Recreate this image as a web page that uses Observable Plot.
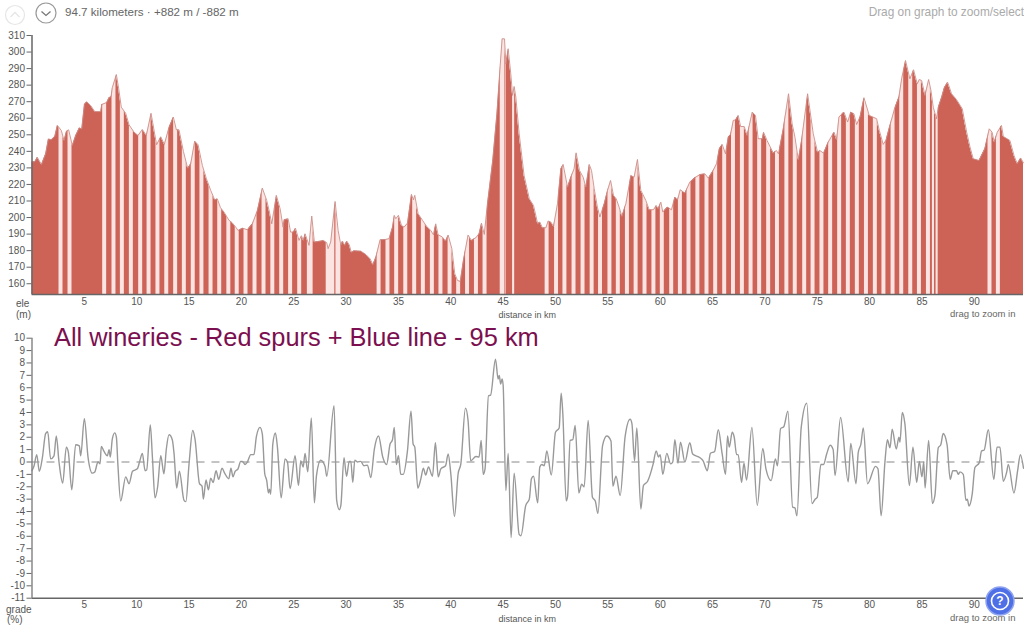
<!DOCTYPE html>
<html>
<head>
<meta charset="utf-8">
<script src="https://cdn.jsdelivr.net/npm/d3@7"></script>
<script src="https://cdn.jsdelivr.net/npm/@observablehq/plot@0.6"></script>
<style>
html,body{margin:0;padding:0;background:#fff;overflow:hidden}
body{width:1024px;height:630px;position:relative;font-family:"Liberation Sans",Arial,sans-serif}
.abs{position:absolute;white-space:nowrap}
#p1,#p2{position:absolute;left:0}
#p1{top:0}
#p2{top:320px}
</style>
</head>
<body>
<svg class="abs" style="left:0;top:0" width="62" height="30">
  <circle cx="15" cy="15" r="9.5" fill="none" stroke="#e6e6e6" stroke-width="1.2"/>
  <path d="M10.5 17 L15 12.5 L19.5 17" fill="none" stroke="#e6e6e6" stroke-width="1.4"/>
  <circle cx="46" cy="13" r="10" fill="none" stroke="#999" stroke-width="1.2"/>
  <path d="M41.5 11.5 L46 15.5 L50.5 11.5" fill="none" stroke="#777" stroke-width="1.3"/>
</svg>
<div class="abs" style="left:65px;top:5px;font-size:11.6px;color:#666">94.7 kilometers · +882 m / -882 m</div>
<div class="abs" style="right:0;top:5px;font-size:11.85px;color:#aaa">Drag on graph to zoom/select</div>
<div id="p1"></div>
<div id="p2"></div>
<div class="abs" style="left:54px;top:323px;font-size:25.4px;color:#7b0f4f">All wineries - Red spurs + Blue line - 95 km</div>
<svg class="abs" style="left:984px;top:585px" width="32" height="32">
  <circle cx="16" cy="16" r="14" fill="#4f6fe6" stroke="#8ea3ef" stroke-width="1.5"/>
  <circle cx="16" cy="16" r="8.5" fill="none" stroke="#fff" stroke-width="1.6"/>
  <text x="16" y="20.2" text-anchor="middle" font-size="12" font-weight="bold" fill="#fff" font-family="Liberation Sans">?</text>
</svg>
<script>
const totalKm = 94.7;
const kmTicks = [5,10,15,20,25,30,35,40,45,50,55,60,65,70,75,80,85,90];
const eleTicks = [160,170,180,190,200,210,220,230,240,250,260,270,280,290,300,310];
const gradeTicks = [10,9,8,7,6,5,4,3,2,1,0,-1,-2,-3,-4,-5,-6,-7,-8,-9,-10,-11];
const eleBase = 153.5, eleTop = 310;

const elevation = [[0,233.5],[0.3,234],[0.5,236.5],[0.9,232],[1.3,238.5],[1.56,247.5],[1.85,247],[2.17,249],[2.42,255.7],[2.8,252.6],[3.06,246.6],[3.28,252],[3.5,253],[3.85,243.6],[4.17,249.6],[4.52,254.2],[4.75,253.6],[5,268.3],[5.22,270],[5.6,267.7],[6,264],[6.56,264],[6.66,268.3],[7.13,269.5],[7.36,272.5],[7.55,273],[7.67,278.4],[8.06,286.4],[8.28,277.8],[8.53,266.7],[8.95,263],[9.27,256],[9.75,251.6],[10.13,249.6],[10.54,253.2],[10.92,249.6],[11.37,263],[11.9,244],[12.3,248.8],[12.64,244.2],[13.09,254.6],[13.5,260.7],[13.79,253],[14.04,253],[14.46,240],[14.87,229.8],[15.16,232.5],[15.54,246.2],[15.86,244],[16.27,231.5],[16.66,223.4],[17.07,216.4],[17.45,210.7],[17.7,211.3],[18,206],[18.34,203.3],[18.82,198.3],[19.1,197],[19.46,194.2],[19.68,192.2],[20.1,193.6],[20.57,192.6],[21.05,196.2],[21.53,204.3],[22,217.8],[22.42,210.3],[22.68,203.3],[22.9,196.2],[23.34,213.4],[23.7,205.3],[23.98,194.2],[24.08,198.7],[24.46,199.3],[24.7,191.2],[24.97,191.2],[25.16,193.6],[25.5,186.2],[25.73,189],[25.92,186.2],[26.08,190.2],[26.46,183.2],[26.72,200.9],[26.97,185.2],[27.58,185.8],[27.83,186.2],[28.15,184.8],[28.28,181.2],[28.53,185.2],[28.95,209.7],[29.24,192.2],[29.5,183.2],[29.65,185.8],[29.87,183.2],[30.06,185.8],[30.3,183.5],[30.5,179],[30.76,180],[31.4,179.7],[31.9,177.6],[32.3,175],[32.55,171.5],[32.84,176],[33.25,186.6],[33.8,186.8],[34.1,187.2],[34.43,194.2],[34.6,201.3],[34.75,199.3],[35,201.3],[35.29,195.2],[35.54,194.2],[35.86,196.6],[36.24,214],[36.43,210.7],[36.56,213.4],[36.88,202.3],[37.3,198.3],[37.7,194.6],[38.09,192.2],[38.34,189.6],[38.56,196.2],[38.79,189.6],[39.2,188.2],[39.5,185.8],[39.75,189.4],[40.1,181.2],[40.38,166],[40.64,162],[40.9,161.4],[41.2,174.1],[41.65,189.4],[41.97,186.2],[42.39,187.8],[42.7,190.2],[42.93,196.6],[43.2,189.8],[43.5,208.3],[44,234.5],[44.4,262.7],[44.72,291.9],[44.9,308],[45.13,308],[45.26,292.9],[45.48,302],[45.73,286.8],[45.9,273.8],[46.05,279.2],[46.21,272.8],[46.53,250.6],[47,225.4],[47.5,211.3],[47.9,207.3],[48.3,196.2],[48.5,197.3],[48.75,193.8],[49.08,193.8],[49.3,197.9],[49.55,197.3],[49.81,194.6],[50.19,208.3],[50.51,229.5],[50.73,232.1],[51.15,218.4],[51.46,224.4],[51.78,229.5],[51.97,239.1],[52.29,228.5],[52.64,224.4],[52.9,218.4],[53.22,232.1],[53.44,228.5],[53.7,217.4],[54,206.3],[54.24,200.3],[54.65,208.3],[54.97,216.4],[55.26,222.4],[55.54,213.4],[55.8,211.3],[56.08,206.3],[56.34,200.7],[56.72,208.3],[57.2,225.4],[57.51,224.4],[57.83,235.1],[58.15,216.4],[58.63,210.3],[58.95,204.7],[59.36,204.7],[59.62,207.3],[59.8,205.3],[60.06,209.3],[60.25,203.3],[60.7,206.3],[61.08,204.7],[61.4,212.4],[61.66,210.7],[61.91,216.8],[62.36,214.8],[62.83,221.4],[63.3,224],[63.8,226],[64.27,226.4],[64.6,223.8],[65.06,228.5],[65.38,232.5],[65.64,241.5],[65.92,244.2],[66.24,238.5],[66.5,248.6],[66.72,250.2],[66.98,258.7],[67.2,259],[67.45,261.7],[67.68,255],[68.03,255],[68.3,249.6],[68.79,263.7],[69.1,261.7],[69.36,247.6],[69.75,247.6],[69.87,251.6],[70.2,246.6],[70.8,239],[71.1,240.5],[71.3,238.5],[71.75,253.6],[72.26,274.8],[72.6,256.6],[72.87,248.6],[73.19,234.9],[73.5,246.6],[74.08,274.8],[74.62,250.6],[75.03,239.5],[75.25,240.5],[75.6,238.9],[76.05,245.6],[76.6,251.6],[76.85,247],[77.07,260.7],[77.55,263.7],[77.9,257.7],[78.2,263.7],[78.5,262.7],[78.76,256.2],[79.08,260.7],[79.46,272.4],[79.97,261.7],[80.67,259.7],[80.93,252.6],[81.3,244.2],[81.56,246.6],[81.85,253.6],[82.41,266.3],[82.8,272.8],[83.06,283.8],[83.43,294.9],[83.85,283.8],[84.2,289.3],[84.55,280.8],[84.75,283.4],[84.97,282.8],[85.29,273.8],[85.64,283.4],[85.86,276.8],[86.08,266.7],[86.4,259.7],[86.56,266.7],[86.88,272.8],[87.13,278.4],[87.45,281.8],[87.83,274.8],[88.3,271.3],[88.85,265.7],[89.27,251.6],[89.59,242.6],[89.9,235.5],[90.45,234.5],[91,241.5],[91.43,253.6],[91.7,251.6],[91.9,245.6],[92.2,251.6],[92.6,255.6],[92.77,249],[93.4,246.6],[93.79,237.5],[94.1,232.5],[94.43,236],[94.7,233]];

const grade = [[0,-0.7],[0.2,-0.3],[0.45,0.6],[0.7,-0.75],[1,0.4],[1.3,2.3],[1.5,2.45],[1.78,0.25],[2.1,0.5],[2.32,2.1],[2.58,0],[2.93,-1.7],[3.28,1.2],[3.47,0.8],[3.8,-2.25],[4.17,1.4],[4.52,1.3],[4.65,0.5],[5,3.5],[5.35,0.4],[5.76,-0.9],[6,-0.8],[6.3,0],[6.5,-0.15],[6.62,1.25],[6.88,0.85],[7.2,0.5],[7.36,1],[7.48,0.4],[7.67,1.85],[7.9,2.35],[8.06,2],[8.2,-0.15],[8.47,-3.15],[8.95,-1.2],[9.27,-1.75],[9.6,-0.75],[10.06,-0.55],[10.3,0.1],[10.54,0.7],[10.8,-0.7],[10.95,-0.65],[11.3,3],[11.5,0.4],[11.75,-2.9],[12,-2],[12.3,0.5],[12.6,-0.95],[12.83,1.05],[13.09,2.2],[13.4,1.8],[13.57,0.65],[13.82,-2.1],[14.08,-0.75],[14.52,-3.1],[14.7,-3.2],[15,-0.15],[15.35,2.55],[15.57,1.85],[16,-1.75],[16.24,-1.95],[16.37,-3],[16.62,-1.45],[16.85,-2.25],[17.07,-1.3],[17.3,-1.65],[17.58,-0.7],[17.83,-1.4],[18.15,-0.5],[18.4,-0.9],[18.8,-1.35],[19,-0.5],[19.2,-1.2],[19.4,-0.75],[19.68,-0.55],[19.93,0.05],[20.1,0.05],[20.35,-0.2],[20.57,0],[20.9,0.6],[21.2,0.6],[21.43,2.05],[21.78,2.8],[22,2.25],[22.23,-0.95],[22.42,-1.5],[22.58,-2.5],[22.68,-2.2],[22.8,-2.6],[23,1.45],[23.25,2.35],[23.44,1.2],[23.8,-2.9],[24.17,0.25],[24.4,0],[24.65,-2.15],[25.13,0.5],[25.45,-1.9],[25.67,0.1],[25.9,-0.4],[26.08,0.7],[26.34,-0.8],[26.68,3.55],[26.97,-3.3],[27.17,-1.1],[27.58,0.15],[27.83,-0.05],[28,-0.4],[28.15,-1.15],[28.85,4.55],[29.1,-3.1],[29.36,-3.85],[29.5,-3.5],[29.8,0.35],[30.04,-1.15],[30.3,0.05],[30.45,0.05],[30.64,-1.65],[30.83,0.15],[31.08,0],[31.4,0.05],[31.7,-0.3],[32.04,-0.25],[32.36,-1.25],[32.7,1.05],[33.1,2.1],[33.5,0.4],[33.87,-0.2],[34.2,1.45],[34.43,1.8],[34.6,2.8],[34.8,-0.2],[35,0.5],[35.22,-1],[35.45,-1],[35.86,0.9],[36.2,4.1],[36.4,1.45],[36.56,1.2],[36.85,-2.1],[37.13,-1.4],[37.38,-0.5],[37.6,-1.05],[37.87,-0.4],[38.25,-1.15],[38.53,1.55],[38.8,-1.2],[39.05,-0.55],[39.5,-0.3],[39.75,0.65],[40,-0.95],[40.35,-4.4],[40.7,-0.95],[40.96,-0.15],[41.4,4.35],[41.65,3.35],[41.9,0.1],[42.4,0.45],[42.7,0.4],[42.9,1.75],[43.1,-1],[43.27,-0.55],[43.6,5.35],[43.8,5.4],[44.27,8.3],[44.52,6.7],[44.63,7],[44.76,6.3],[44.9,6.7],[45,6.2],[45.26,-2.3],[45.48,0.7],[45.76,-6.1],[46.05,-0.9],[46.53,-5.85],[46.7,-5.95],[47.16,-3.5],[47.5,-3],[47.7,-1.35],[47.9,-1.15],[48.3,-3.3],[48.5,-0.4],[48.7,-0.2],[48.93,-0.3],[49.17,0.9],[49.6,-1.05],[50,2.4],[50.35,2.75],[50.54,5.55],[50.7,3.9],[51.02,-3.15],[51.15,-2.8],[51.4,1.75],[51.65,1.8],[51.88,2.95],[52.23,-2.5],[52.5,-1.8],[52.74,-2],[53.12,3.35],[53.53,-2.85],[53.8,-3.15],[54.05,-4.15],[54.5,1.35],[54.9,2.1],[55.3,1.7],[55.48,-1.95],[55.78,-1.15],[56.18,-2.7],[56.65,2.05],[57.13,3.45],[57.3,3.1],[57.55,0.1],[57.77,2.75],[58.15,-3.8],[58.4,-1.9],[58.8,-1.55],[59.33,-0.15],[59.62,0.9],[59.84,0.4],[60,0.6],[60.25,-1],[60.63,0.7],[61,-0.15],[61.2,0],[61.4,1.8],[61.7,-0.1],[61.94,1.6],[62.36,0],[62.83,1.55],[63.1,0.65],[63.8,0.35],[64.1,0.1],[64.5,-0.7],[64.8,0.7],[65.2,0.85],[65.55,2.6],[65.92,0.65],[66.24,-1],[66.43,2.1],[66.6,1.2],[66.88,2.4],[67.07,2],[67.3,0.6],[67.45,0.6],[67.77,-1.65],[68,-0.1],[68.25,-1.45],[68.76,2.8],[69.27,-3.5],[69.8,1.1],[70.1,-0.55],[70.6,-1.5],[71,0.25],[71.2,-0.3],[71.5,2.7],[71.8,2.85],[72.2,4.1],[72.65,-3.65],[72.87,-3.7],[73.06,-4.35],[73.47,2.8],[74,4.75],[74.5,-3.35],[74.8,-3],[75,-2.85],[75.35,-0.2],[75.6,-0.2],[75.9,0.65],[76.24,1.35],[76.52,1],[76.7,-1.1],[77.23,3.6],[77.96,-1.6],[78.2,1.5],[78.7,-1.75],[78.92,0.8],[79.17,1.45],[79.4,2.75],[79.8,-1.75],[80.57,-0.35],[80.8,-0.55],[81.1,-4.35],[81.47,0.05],[81.7,1.8],[81.95,1.15],[82.16,2.65],[82.55,1.05],[82.8,2],[82.9,1.6],[83.12,4],[83.37,3.1],[83.8,-1.9],[84.14,1.2],[84.5,-1.65],[84.75,0.05],[85,-1.2],[85.17,0],[85.3,-2.1],[85.64,1.75],[86,-3.35],[86.24,-2.7],[86.56,1.15],[86.8,1.4],[87.03,2.3],[87.4,1.4],[87.7,-1.4],[87.95,-0.7],[88.3,-0.7],[88.47,-1],[88.63,-0.8],[88.95,-1],[89.2,-3.1],[89.33,-3],[89.5,-3.55],[89.8,-2.6],[90.06,-0.45],[90.48,-0.05],[90.7,0.9],[90.93,0.95],[91.34,2.6],[91.87,-1.4],[92.17,1.2],[92.45,1.2],[92.77,-1.55],[93.1,-0.8],[93.25,-0.2],[93.79,-2.5],[94.14,-0.7],[94.4,0.6],[94.7,-0.5]];

const stripeCentres = [2.77,3.63,6.94,7.83,8.63,9.49,10.38,11.18,12.03,12.87,13.72,14.55,15.4,16.23,17.1,17.93,18.8,19.6,20.44,21.3,22.16,23,23.85,24.7,25.57,33.15,34,34.83,35.7,36.55,37.38,38.24,39.06,39.93,40.75,41.6,42.45,43.27,49.2,50.1,50.9,51.77,52.63,53.5,54.3,55.2,56,56.87,57.7,58.55,59.4,60.2,61.1,61.93,62.75,63.6,64.47,65.3,66.16,67,67.85,68.68,69.5,70.36,71.2,72.1,72.9,73.8,74.6,75.45,76.28,77.14,77.97,78.83,79.7,80.55,81.37,82.24,83.07,83.93,84.76,85.62,91.5,92.3];
const stripeWidth = 0.38;
const otherStripes = [[26.3,26.85],[28.1,28.92],[29.03,29.5],[44.72,45.15],[45.2,45.28],[45.9,46.1],[86,86.2],[86.35,86.55]];

const stripes = stripeCentres.map(c => [c - stripeWidth/2, c + stripeWidth/2]).concat(otherStripes);

const fontFamily = '"Liberation Sans", Arial, sans-serif';
const axisColor = "#666";
const labelColor = "#555";

const xScale = {domain:[0,totalKm], range:[31.5,1023]};

const upper = Plot.plot({
  width:1024, height:320, marginTop:35, marginBottom:26, marginLeft:31.5, marginRight:1,
  style:{fontFamily, fontSize:"10px", background:"transparent", color:labelColor, overflow:"visible"},
  x:{...xScale, axis:null},
  y:{domain:[eleBase,eleTop], axis:null},
  marks:[
    Plot.areaY(elevation,{x:d=>d[0], y1:()=>eleBase, y2:d=>d[1], fill:"#cd6357"}),
    Plot.rectY(stripes,{x1:d=>d[0], x2:d=>d[1], y1:()=>eleBase, y2:()=>eleTop, fill:"#fbe4e1"}),
    Plot.areaY(elevation,{x:d=>d[0], y1:d=>d[1], y2:()=>eleTop, fill:"#fff"}),
    Plot.lineY(elevation,{x:d=>d[0], y:d=>d[1], stroke:"#cc8e89", strokeWidth:0.9}),
    Plot.ruleX([0],{stroke:axisColor, strokeWidth:1.5}),
    Plot.ruleY([eleBase],{stroke:axisColor, strokeWidth:1.5}),
    Plot.axisY({ticks:eleTicks, tickSize:5, tickPadding:2, label:null, stroke:axisColor, tickFormat:d=>d}),
    Plot.axisX({ticks:kmTicks, tickSize:0, tickPadding:3, label:null, tickFormat:d=>d}),
    Plot.text(["ele"],{frameAnchor:"bottom-left", dx:-16, dy:12, fill:labelColor}),
    Plot.text(["(m)"],{frameAnchor:"bottom-left", dx:-16, dy:23, fill:labelColor}),
    Plot.text(["distance in km"],{x:()=>47.3, frameAnchor:"bottom", dy:23, text:d=>d, fill:labelColor, fontSize:9}),
    Plot.text(["drag to zoom in"],{frameAnchor:"bottom-right", dx:-8, dy:22, fill:"#666", fontSize:9.5})
  ]
});
document.getElementById("p1").appendChild(upper);

const lower = Plot.plot({
  width:1024, height:310, marginTop:17.7, marginBottom:32.3, marginLeft:31.5, marginRight:1,
  style:{fontFamily, fontSize:"10px", background:"transparent", color:labelColor, overflow:"visible"},
  x:{...xScale, axis:null},
  y:{domain:[-11,10], axis:null},
  marks:[
    Plot.ruleY([0],{stroke:"#888", strokeWidth:1, strokeDasharray:"8,7"}),
    Plot.lineY(grade,{x:d=>d[0], y:d=>d[1], stroke:"#999", strokeWidth:1.4, curve:"monotone-x"}),
    Plot.ruleX([0],{stroke:"#888", strokeWidth:1.5}),
    Plot.ruleY([-11],{stroke:axisColor, strokeWidth:1.5}),
    Plot.axisY({ticks:gradeTicks, tickSize:5, tickPadding:2, label:null, stroke:axisColor, tickFormat:d=>d}),
    Plot.axisX({ticks:kmTicks, tickSize:0, tickPadding:3, label:null, tickFormat:d=>d}),
    Plot.text(["grade"],{frameAnchor:"bottom-left", dx:-26, dy:15, fill:labelColor}),
    Plot.text(["(%)"],{frameAnchor:"bottom-left", dx:-25, dy:25, fill:labelColor}),
    Plot.text(["distance in km"],{x:()=>47.3, frameAnchor:"bottom", dy:24, text:d=>d, fill:labelColor, fontSize:9}),
    Plot.text(["drag to zoom in"],{frameAnchor:"bottom-right", dx:-8, dy:23, fill:"#666", fontSize:9.5})
  ]
});
document.getElementById("p2").appendChild(lower);
</script>
</body>
</html>
